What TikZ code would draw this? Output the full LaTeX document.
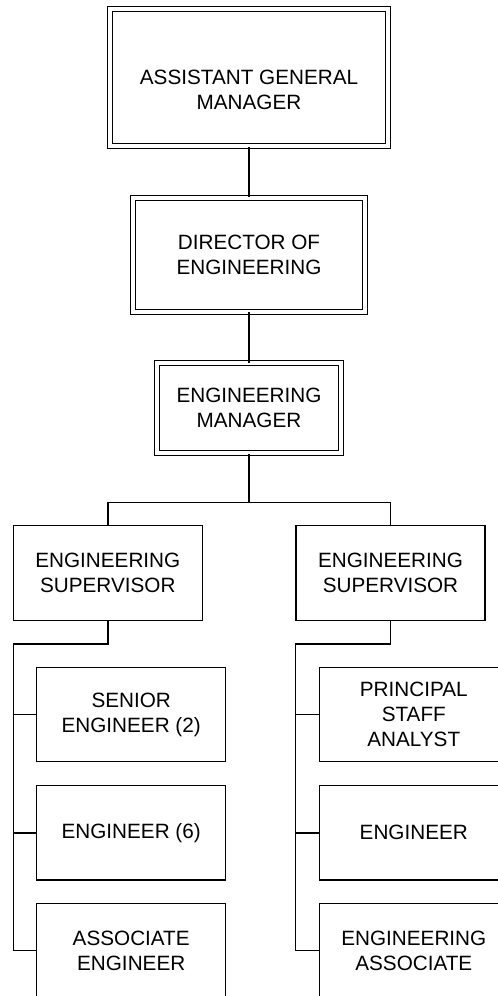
\documentclass[tikz,border=0pt]{standalone}
\usepackage{fontspec}
\setmainfont{Liberation Sans}
\begin{document}
\begin{tikzpicture}[x=1pt,y=-1pt,
  txt/.style={align=center, inner sep=0pt, font=\fontsize{20.7}{25}\selectfont},
  dbox/.style={txt, draw, double, double distance=3.9pt, line width=1.1pt},
  sbox/.style={txt, draw, line width=1.4pt, minimum width=189pt, minimum height=94.5pt},
  conn/.style={line width=1.4pt}]
\useasboundingbox (0,0) rectangle (498,996);
\fill[white] (0,0) rectangle (498,996);
\node[dbox, minimum width=278.5pt, minimum height=137.2pt] (agm) at (249,77.8) {\rule{0pt}{13pt}\\ASSISTANT GENERAL\\MANAGER};
\node[dbox, minimum width=231.3pt, minimum height=113.7pt] (dir) at (249,254.7) {DIRECTOR OF\\ENGINEERING};
\node[dbox, minimum width=184pt, minimum height=90.3pt] (em) at (249,408.2) {ENGINEERING\\MANAGER};
\node[sbox] (s1) at (107.8,573) {ENGINEERING\\SUPERVISOR};
\node[sbox] (s2) at (390.5,573) {ENGINEERING\\SUPERVISOR};
\node[sbox] (l1) at (131.2,714.5) {SENIOR\\ENGINEER (2)};
\node[sbox] (l2) at (131.2,832.8) {ENGINEER (6)};
\node[sbox] (l3) at (131.2,950.5) {ASSOCIATE\\ENGINEER};
\node[sbox] (r1) at (413.8,714.5) {PRINCIPAL\\STAFF\\ANALYST};
\node[sbox] (r2) at (413.8,832.8) {ENGINEER};
\node[sbox] (r3) at (413.8,950.5) {ENGINEERING\\ASSOCIATE};
\coordinate (j) at (249,502.3);
\coordinate (kl) at (13.3,644);
\coordinate (kr) at (295.3,644);
\draw[conn] (agm) -- (dir);
\draw[conn] (dir) -- (em);
\draw[conn] (em) -- (j);
\draw[conn] (s1.north) |- (j) -| (s2.north);
\draw[conn] (s1.south) |- (kl) |- (l3.west);
\draw[conn] (l1.west) -- (l1.west -| kl);
\draw[conn] (l2.west) -- (l2.west -| kl);
\draw[conn] (s2.south) |- (kr) |- (r3.west);
\draw[conn] (r1.west) -- (r1.west -| kr);
\draw[conn] (r2.west) -- (r2.west -| kr);
\end{tikzpicture}
\end{document}
